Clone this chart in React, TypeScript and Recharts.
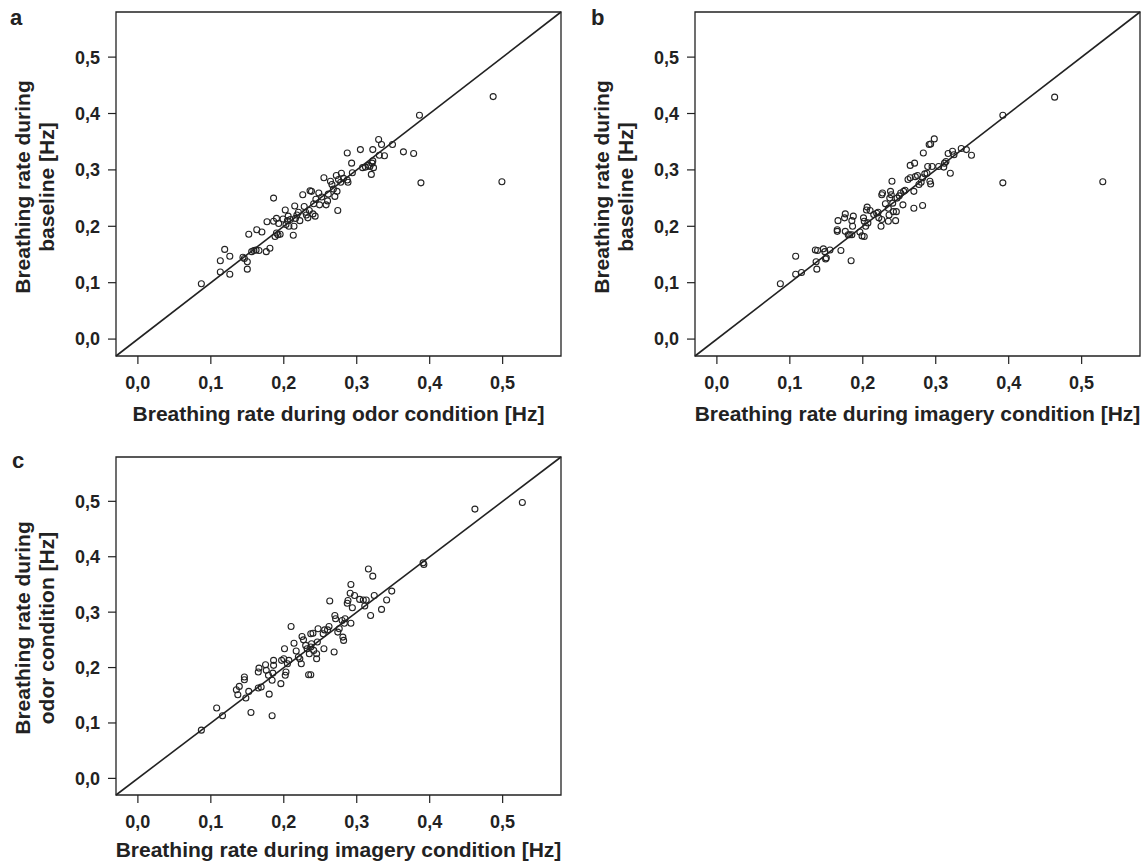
import React from 'react';
import { ScatterChart, Scatter, XAxis, YAxis, ReferenceLine, ReferenceArea } from 'recharts';

const FONT = '"Liberation Sans", Arial, Helvetica, sans-serif';
const INK = '#222';

const TICKS = [0, 0.1, 0.2, 0.3, 0.4, 0.5];
const DOMAIN: [number, number] = [-0.03, 0.58];

// Panel a: x = odor condition, y = baseline
const odorVsBaseline: [number, number][] = [
  [0.087, 0.098], [0.113, 0.119], [0.113, 0.139], [0.119, 0.159], [0.126, 0.147], [0.126, 0.115],
  [0.144, 0.145], [0.146, 0.143], [0.150, 0.137], [0.150, 0.124], [0.152, 0.186], [0.156, 0.155],
  [0.159, 0.157], [0.162, 0.158], [0.166, 0.157], [0.163, 0.194], [0.170, 0.190], [0.176, 0.155],
  [0.181, 0.161], [0.177, 0.208], [0.186, 0.250], [0.186, 0.209], [0.188, 0.182], [0.190, 0.188],
  [0.192, 0.185], [0.195, 0.186], [0.190, 0.214], [0.193, 0.205], [0.199, 0.213], [0.202, 0.229],
  [0.203, 0.203], [0.205, 0.210], [0.207, 0.200], [0.206, 0.218], [0.209, 0.212], [0.213, 0.184],
  [0.214, 0.200], [0.215, 0.236], [0.216, 0.214], [0.218, 0.220], [0.220, 0.225], [0.222, 0.210],
  [0.226, 0.256], [0.228, 0.235], [0.230, 0.225], [0.231, 0.220], [0.233, 0.215], [0.235, 0.228],
  [0.236, 0.263], [0.238, 0.262], [0.240, 0.222], [0.241, 0.240], [0.243, 0.218], [0.244, 0.248],
  [0.248, 0.259], [0.249, 0.238], [0.252, 0.252], [0.255, 0.286], [0.258, 0.238], [0.260, 0.245],
  [0.261, 0.257], [0.264, 0.280], [0.266, 0.274], [0.268, 0.266], [0.270, 0.253], [0.272, 0.290],
  [0.273, 0.262], [0.274, 0.228], [0.275, 0.283], [0.278, 0.278], [0.279, 0.294], [0.282, 0.285],
  [0.287, 0.282], [0.288, 0.278], [0.287, 0.330], [0.293, 0.312], [0.294, 0.295], [0.305, 0.336],
  [0.308, 0.304], [0.312, 0.305], [0.316, 0.308], [0.318, 0.306], [0.320, 0.292], [0.321, 0.312],
  [0.322, 0.316], [0.323, 0.304], [0.322, 0.336], [0.330, 0.354], [0.331, 0.326], [0.334, 0.345],
  [0.338, 0.325], [0.349, 0.345], [0.364, 0.332], [0.378, 0.329], [0.386, 0.397], [0.388, 0.277],
  [0.487, 0.430], [0.499, 0.279],
];

// Panel b: x = imagery condition, y = baseline
const imageryVsBaseline: [number, number][] = [
  [0.087, 0.098], [0.108, 0.147], [0.108, 0.115], [0.116, 0.118], [0.135, 0.158], [0.138, 0.157],
  [0.136, 0.137], [0.137, 0.124], [0.146, 0.160], [0.148, 0.155], [0.150, 0.144], [0.149, 0.142],
  [0.155, 0.158], [0.170, 0.157], [0.184, 0.139], [0.166, 0.210], [0.165, 0.194], [0.165, 0.191],
  [0.176, 0.222], [0.175, 0.215], [0.176, 0.191], [0.180, 0.185], [0.182, 0.185], [0.185, 0.185],
  [0.186, 0.200], [0.185, 0.210], [0.187, 0.218], [0.196, 0.190], [0.199, 0.183], [0.202, 0.182],
  [0.201, 0.215], [0.202, 0.209], [0.204, 0.200], [0.205, 0.229], [0.206, 0.234], [0.210, 0.228],
  [0.207, 0.206], [0.215, 0.221], [0.219, 0.223], [0.221, 0.225], [0.225, 0.200], [0.226, 0.212],
  [0.222, 0.215], [0.226, 0.256], [0.227, 0.259], [0.231, 0.240], [0.235, 0.232], [0.235, 0.209],
  [0.236, 0.220], [0.237, 0.250], [0.238, 0.262], [0.239, 0.256], [0.240, 0.280], [0.241, 0.241],
  [0.242, 0.226], [0.246, 0.226], [0.245, 0.210], [0.247, 0.250], [0.250, 0.254], [0.252, 0.259],
  [0.255, 0.238], [0.256, 0.262], [0.258, 0.264], [0.262, 0.283], [0.265, 0.286], [0.265, 0.308],
  [0.270, 0.232], [0.270, 0.262], [0.271, 0.312], [0.272, 0.288], [0.275, 0.290], [0.277, 0.274],
  [0.280, 0.278], [0.282, 0.286], [0.282, 0.237], [0.283, 0.330], [0.285, 0.293], [0.288, 0.294],
  [0.289, 0.306], [0.292, 0.280], [0.293, 0.275], [0.291, 0.345], [0.293, 0.346], [0.298, 0.355],
  [0.295, 0.306], [0.304, 0.306], [0.311, 0.305], [0.312, 0.312], [0.314, 0.315], [0.317, 0.329],
  [0.320, 0.294], [0.323, 0.333], [0.325, 0.327], [0.335, 0.338], [0.342, 0.336], [0.349, 0.326],
  [0.392, 0.397], [0.392, 0.277], [0.463, 0.429], [0.529, 0.279],
];

// Panel c: x = imagery condition, y = odor condition
const imageryVsOdor: [number, number][] = [
  [0.087, 0.087], [0.108, 0.127], [0.116, 0.113], [0.135, 0.160], [0.137, 0.151], [0.139, 0.166],
  [0.146, 0.178], [0.146, 0.183], [0.148, 0.145], [0.152, 0.157], [0.155, 0.119], [0.165, 0.163],
  [0.169, 0.165], [0.166, 0.199], [0.165, 0.192], [0.175, 0.205], [0.176, 0.195], [0.179, 0.186],
  [0.180, 0.152], [0.184, 0.113], [0.184, 0.177], [0.185, 0.190], [0.186, 0.204], [0.186, 0.213],
  [0.196, 0.171], [0.197, 0.213], [0.200, 0.216], [0.201, 0.234], [0.202, 0.186], [0.203, 0.192],
  [0.205, 0.207], [0.207, 0.213], [0.210, 0.274], [0.214, 0.244], [0.217, 0.230], [0.220, 0.219],
  [0.222, 0.216], [0.224, 0.207], [0.225, 0.256], [0.227, 0.250], [0.230, 0.240], [0.232, 0.234],
  [0.235, 0.225], [0.237, 0.237], [0.238, 0.243], [0.237, 0.261], [0.240, 0.262], [0.234, 0.187],
  [0.237, 0.187], [0.241, 0.231], [0.245, 0.225], [0.245, 0.216], [0.246, 0.246], [0.247, 0.270],
  [0.254, 0.261], [0.256, 0.268], [0.255, 0.234], [0.260, 0.268], [0.262, 0.274], [0.263, 0.320],
  [0.269, 0.228], [0.270, 0.294], [0.271, 0.288], [0.274, 0.264], [0.276, 0.270], [0.280, 0.285],
  [0.281, 0.255], [0.282, 0.249], [0.283, 0.280], [0.284, 0.288], [0.287, 0.316], [0.288, 0.321],
  [0.291, 0.334], [0.292, 0.350], [0.292, 0.280], [0.294, 0.308], [0.297, 0.330], [0.304, 0.323],
  [0.309, 0.322], [0.311, 0.311], [0.313, 0.322], [0.316, 0.378], [0.319, 0.294], [0.322, 0.365],
  [0.324, 0.330], [0.334, 0.305], [0.341, 0.322], [0.348, 0.338], [0.391, 0.389], [0.392, 0.386],
  [0.462, 0.486], [0.527, 0.498],
];

const toPoints = (arr: [number, number][]) => arr.map(([x, y]) => ({ x, y }));

const fmt = (v: number) => v.toFixed(1).replace('.', ',');

const Ring = (props: any) => {
  const { cx, cy } = props;
  if (cx == null || cy == null) return null;
  return <circle cx={cx} cy={cy} r={3} fill="none" stroke={INK} strokeWidth={1.1} />;
};

const tickStyle = { fill: INK, fontSize: 18, fontWeight: 700, fontFamily: FONT };

type PanelProps = {
  data: [number, number][];
  left: number;
  top: number;
  height: number;
  marginTop: number;
  marginBottom: number;
};

function Panel({ data, left, top, height, marginTop, marginBottom }: PanelProps) {
  return (
    <div style={{ position: 'absolute', left, top }}>
      <ScatterChart
        width={580}
        height={height}
        margin={{ top: marginTop, right: 19, bottom: marginBottom, left: 56 }}
      >
        <XAxis
          type="number"
          dataKey="x"
          domain={DOMAIN}
          ticks={TICKS}
          allowDataOverflow
          interval={0}
          tickFormatter={fmt}
          axisLine={false}
          tickLine={{ stroke: INK, strokeWidth: 1.2 }}
          tickSize={8}
          tickMargin={12}
          height={30}
          tick={tickStyle}
        />
        <YAxis
          type="number"
          dataKey="y"
          domain={DOMAIN}
          ticks={TICKS}
          allowDataOverflow
          interval={0}
          tickFormatter={fmt}
          axisLine={false}
          tickLine={{ stroke: INK, strokeWidth: 1.2 }}
          tickSize={8}
          tickMargin={8}
          width={60}
          tick={tickStyle}
        />
        <ReferenceArea
          x1={DOMAIN[0]}
          x2={DOMAIN[1]}
          y1={DOMAIN[0]}
          y2={DOMAIN[1]}
          fill="none"
          fillOpacity={0}
          stroke={INK}
          strokeWidth={1.3}
          ifOverflow="visible"
        />
        <ReferenceLine
          segment={[{ x: DOMAIN[0], y: DOMAIN[0] }, { x: DOMAIN[1], y: DOMAIN[1] }]}
          stroke={INK}
          strokeWidth={1.6}
          ifOverflow="visible"
        />
        <Scatter data={toPoints(data)} shape={Ring} isAnimationActive={false} />
      </ScatterChart>
    </div>
  );
}

const titleStyle = { fill: INK, fontSize: 21, fontWeight: 700, fontFamily: FONT } as const;

function YTitle({ x1, x2, cy, line1, line2 }: { x1: number; x2: number; cy: number; line1: string; line2: string }) {
  return (
    <g>
      <text transform={`translate(${x1},${cy}) rotate(-90)`} textAnchor="middle" style={titleStyle}>
        {line1}
      </text>
      <text transform={`translate(${x2},${cy}) rotate(-90)`} textAnchor="middle" style={titleStyle}>
        {line2}
      </text>
    </g>
  );
}

export default function App() {
  return (
    <div style={{ position: 'absolute', left: 0, top: 0, width: 1148, height: 866, background: '#fff', overflow: 'hidden' }}>
      <Panel data={odorVsBaseline} left={0} top={0} height={440} marginTop={12} marginBottom={54} />
      <Panel data={imageryVsBaseline} left={579} top={0} height={440} marginTop={12} marginBottom={54} />
      <Panel data={imageryVsOdor} left={0} top={439} height={427} marginTop={18} marginBottom={41} />
      <svg width={1148} height={866} style={{ position: 'absolute', left: 0, top: 0, pointerEvents: 'none' }}>
        <text x={10} y={25} style={{ ...titleStyle, fontSize: 22 }}>a</text>
        <text x={591} y={25} style={{ ...titleStyle, fontSize: 22 }}>b</text>
        <text x={12} y={468} style={{ ...titleStyle, fontSize: 22 }}>c</text>

        <text x={338.5} y={421} textAnchor="middle" style={titleStyle}>Breathing rate during odor condition [Hz]</text>
        <text x={917.5} y={421} textAnchor="middle" style={titleStyle}>Breathing rate during imagery condition [Hz]</text>
        <text x={338.5} y={857} textAnchor="middle" style={titleStyle}>Breathing rate during imagery condition [Hz]</text>

        <YTitle x1={30} x2={54} cy={187} line1="Breathing rate during" line2="baseline [Hz]" />
        <YTitle x1={609} x2={633} cy={187} line1="Breathing rate during" line2="baseline [Hz]" />
        <YTitle x1={30} x2={54} cy={628} line1="Breathing rate during" line2="odor condition [Hz]" />
      </svg>
    </div>
  );
}
